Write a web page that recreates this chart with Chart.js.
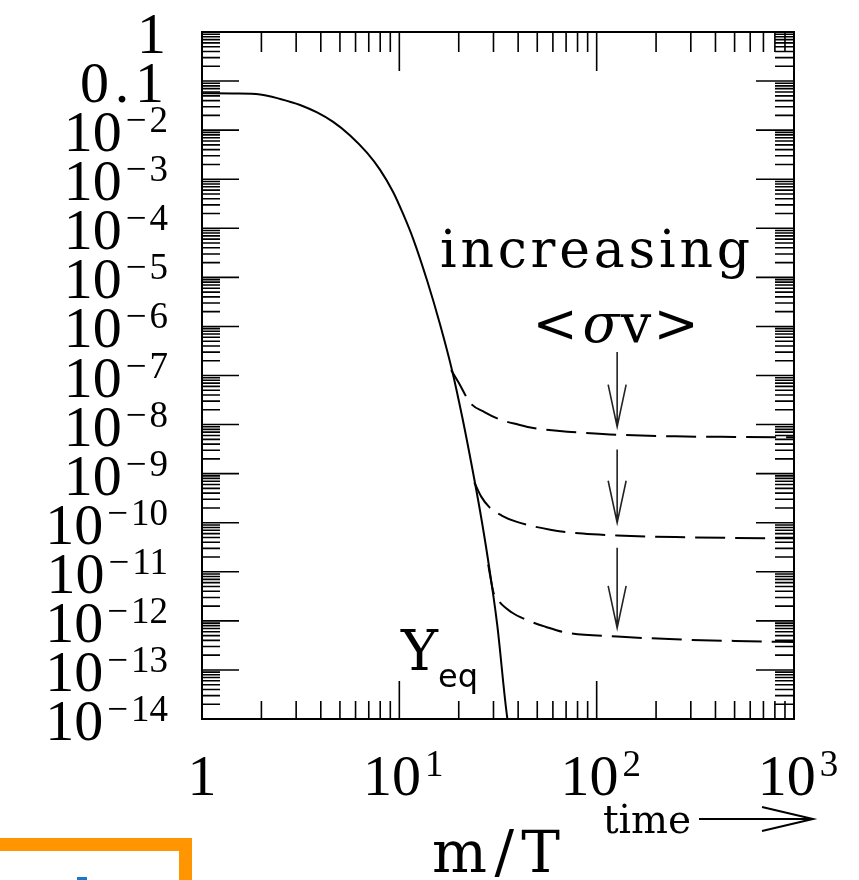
<!DOCTYPE html>
<html>
<head>
<meta charset="utf-8">
<script src="https://cdn.jsdelivr.net/npm/chart.js@4/dist/chart.umd.min.js"></script>
<style>
  html, body { margin: 0; padding: 0; background: #fff; }
  canvas { display: block; }
</style>
</head>
<body>
<canvas id="chart" width="859" height="880"></canvas>
<script>
// Data -----------------------------------------------------------------------

// equilibrium abundance Y_eq against m/T
const yeqX = [1, 1.44, 1.97, 2.49, 3.14, 3.83, 4.62, 5.63, 6.87, 7.99, 9.3, 10.45, 11.75, 13.84, 16.1, 18.52, 20.82, 23.39, 25.69, 28.2, 31.33, 35.22, 39.6];
const yeqY = [0.0565, 0.0559, 0.0533, 0.0432, 0.0326, 0.0229, 0.0147, 7.8e-3, 3.43e-3, 1.55e-3, 5.5e-4, 1.96e-4, 6.1e-5, 8.5e-6, 1.08e-6, 1.25e-7, 1.44e-8, 1.32e-9, 1.67e-10, 1.68e-11, 8.4e-13, 1.07e-14, 1.0e-15];

// freeze-out curves, one per <sigma v>
const freezeX1 = [18.3, 20, 22.9, 27, 32.5, 40, 47.7, 65, 85.5, 127, 250, 500, 1000];
const freezeY1 = [1.3e-7, 7.1e-8, 2.75e-8, 1.8e-8, 1.26e-8, 1.0e-8, 8.5e-9, 7.4e-9, 6.8e-9, 6.2e-9, 5.75e-9, 5.6e-9, 5.5e-9];

const freezeX2 = [24.0, 26, 28.5, 33, 39.1, 58.2, 85, 127, 250, 500, 1000];
const freezeY2 = [6.6e-10, 3.4e-10, 2.1e-10, 1.4e-10, 1.05e-10, 7.2e-11, 6.0e-11, 5.5e-11, 5.1e-11, 4.9e-11, 4.8e-11];

const freezeX3 = [28.2, 30, 32.1, 37, 44, 55, 70.1, 127, 250, 500, 1000];
const freezeY3 = [1.4e-11, 3.8e-12, 2.45e-12, 1.5e-12, 1.05e-12, 7.6e-13, 5.75e-13, 4.8e-13, 4.2e-13, 3.9e-13, 3.7e-13];

// "increasing <sigma v>" arrows (value space)
const arrowX = 127;
const arrowFrom = [3.0e-7, 3.1e-9, 3.1e-11];
const arrowTo = [9.1e-9, 1.0e-10, 7.2e-13];

// tick label decades
const xDecades = [0, 1, 2, 3];
const yDecades = [0, -1, -2, -3, -4, -5, -6, -7, -8, -9, -10, -11, -12, -13, -14];

// Helpers --------------------------------------------------------------------

const zip = (xs, ys) => xs.map((v, i) => ({x: v, y: ys[i]}));

const DIGIT_FONT = '"Liberation Serif", serif';
const TEXT_FONT = '"DejaVu Serif", serif';

function fitText(ctx, text, left, baseline, font, width) {
    ctx.font = font;
    ctx.letterSpacing = '0px';
    let w = ctx.measureText(text).width;
    let ls = (width - w) / (text.length - 1);
    ctx.letterSpacing = ls + 'px';
    ctx.textAlign = 'left';
    ctx.fillText(text, left, baseline);
    ctx.letterSpacing = '0px';
}

// "10" with a raised exponent, minus drawn apart like TeX does
function powLabel(ctx, exp, x, baseline, align) {
    let digits = String(Math.abs(exp));
    ctx.textAlign = 'left';
    ctx.font = '58px ' + DIGIT_FONT;
    let wb = ctx.measureText('10').width;
    ctx.font = '37px ' + DIGIT_FONT;
    let wm = exp < 0 ? ctx.measureText('\u2212').width + 3 : 0;
    let wd = ctx.measureText(digits).width;
    let gap = 4;
    let total = wb + gap + wm + wd;
    let left = align === 'right' ? x - total : x - total / 2;
    ctx.font = '58px ' + DIGIT_FONT;
    ctx.fillText('10', left, baseline);
    ctx.font = '37px ' + DIGIT_FONT;
    let sx = left + wb + gap;
    if (exp < 0) {
        ctx.fillText('\u2212', sx, baseline - 19);
    }
    ctx.fillText(digits, sx + wm, baseline - 19);
}

// Frame, ticks, labels and notes drawn through the chart scales -------------

const framePlugin = {
    id: 'frame',
    afterDraw(chart) {
        const ctx = chart.ctx;
        const a = chart.chartArea;
        const xs = chart.scales.x;
        const ys = chart.scales.y;

        ctx.save();
        ctx.strokeStyle = '#000';
        ctx.fillStyle = '#000';

        // ticks
        ctx.lineWidth = 1.6;
        ctx.beginPath();
        for (let e = -14; e <= 0; e++) {
            for (let k = 1; k <= 9; k++) {
                let v = k * Math.pow(10, e);
                if (v > 1.0000001) break;
                let py = ys.getPixelForValue(v);
                let major = k === 1;
                ctx.moveTo(a.left, py);
                ctx.lineTo(a.left + (major ? 37 : 18), py);
                ctx.moveTo(a.right, py);
                ctx.lineTo(a.right - (major ? 38 : 19), py);
            }
        }
        for (let e = 0; e <= 3; e++) {
            for (let k = 1; k <= 9; k++) {
                let v = k * Math.pow(10, e);
                if (v > 1000.0001) break;
                let px = xs.getPixelForValue(v);
                let major = k === 1;
                ctx.moveTo(px, a.top);
                ctx.lineTo(px, a.top + (major ? 39 : 20));
                ctx.moveTo(px, a.bottom);
                ctx.lineTo(px, a.bottom - (major ? 38 : 18));
            }
        }
        ctx.stroke();

        // frame
        ctx.lineWidth = 2;
        ctx.strokeRect(a.left, a.top, a.right - a.left, a.bottom - a.top);

        // y tick labels
        yDecades.forEach(function (e) {
            let py = ys.getPixelForValue(Math.pow(10, e));
            if (e === 0) {
                ctx.font = '58px ' + DIGIT_FONT;
                ctx.textAlign = 'right';
                ctx.fillText('1', 166, py + 21);
            } else if (e === -1) {
                fitText(ctx, '0.1', 80, py + 21, '58px ' + DIGIT_FONT, 84);
            } else {
                powLabel(ctx, e, 168, py + 21, 'right');
            }
        });

        // x tick labels
        xDecades.forEach(function (e) {
            let px = xs.getPixelForValue(Math.pow(10, e));
            if (e === 0) {
                ctx.font = '58px ' + DIGIT_FONT;
                ctx.textAlign = 'center';
                ctx.fillText('1', px, 795);
            } else {
                powLabel(ctx, e, px + 4, 795, 'center');
            }
        });

        // axis title and "time" arrow
        fitText(ctx, 'm/T', 432, 872, '58px ' + TEXT_FONT, 128);
        fitText(ctx, 'time', 603, 833, '39px ' + TEXT_FONT, 88);
        ctx.lineWidth = 2;
        ctx.beginPath();
        ctx.moveTo(699, 819);
        ctx.lineTo(812, 819);
        ctx.moveTo(762, 807);
        ctx.lineTo(813, 819);
        ctx.lineTo(762, 831);
        ctx.stroke();

        // curve notes
        fitText(ctx, 'increasing', 440, 267, '52px ' + TEXT_FONT, 310);
        ctx.textAlign = 'center';
        ctx.font = '54px ' + TEXT_FONT;
        ctx.fillText('<', 555, 342);
        ctx.fillText('v', 636, 342);
        ctx.fillText('>', 676, 342);
        ctx.font = 'italic 54px ' + TEXT_FONT;
        ctx.fillText('\u03c3', 601, 342);

        ctx.textAlign = 'left';
        ctx.font = '56px ' + TEXT_FONT;
        ctx.fillText('Y', 401, 670);
        ctx.font = '32px "DejaVu Sans", sans-serif';
        ctx.fillText('eq', 438, 687);

        // down arrows
        ctx.strokeStyle = '#222';
        ctx.lineWidth = 1.6;
        let ax = xs.getPixelForValue(arrowX);
        arrowFrom.forEach(function (v, i) {
            let y0 = ys.getPixelForValue(v);
            let y1 = ys.getPixelForValue(arrowTo[i]);
            ctx.beginPath();
            ctx.moveTo(ax, y0);
            ctx.lineTo(ax, y1);
            ctx.moveTo(ax - 9, y1 - 42);
            ctx.lineTo(ax, y1);
            ctx.lineTo(ax + 9, y1 - 42);
            ctx.stroke();
        });

        // orange box cut off at the page corner
        ctx.fillStyle = '#ff9500';
        ctx.fillRect(0, 838, 192, 13);
        ctx.fillRect(179, 838, 13, 42);
        ctx.fillStyle = '#1a78c8';
        ctx.fillRect(77, 877, 10, 3);

        ctx.restore();
    }
};

// Chart ----------------------------------------------------------------------

const lineStyle = {
    borderColor: '#000',
    borderWidth: 2,
    pointRadius: 0,
    fill: false,
    cubicInterpolationMode: 'monotone'
};

new Chart(document.getElementById('chart').getContext('2d'), {
    type: 'line',
    data: {
        datasets: [
            Object.assign({label: 'Y_eq', data: zip(yeqX, yeqY)}, lineStyle),
            Object.assign({label: 'Y 1', data: zip(freezeX1, freezeY1), borderDash: [30, 10]}, lineStyle),
            Object.assign({label: 'Y 2', data: zip(freezeX2, freezeY2), borderDash: [30, 10]}, lineStyle),
            Object.assign({label: 'Y 3', data: zip(freezeX3, freezeY3), borderDash: [30, 10]}, lineStyle)
        ]
    },
    options: {
        responsive: false,
        animation: false,
        devicePixelRatio: 1,
        layout: {padding: {left: 202, right: 65, top: 32, bottom: 161}},
        plugins: {legend: {display: false}, tooltip: {enabled: false}},
        scales: {
            x: {type: 'logarithmic', min: 1, max: 1000, display: false},
            y: {type: 'logarithmic', min: 1e-14, max: 1, display: false}
        }
    },
    plugins: [framePlugin]
});
</script>
</body>
</html>
